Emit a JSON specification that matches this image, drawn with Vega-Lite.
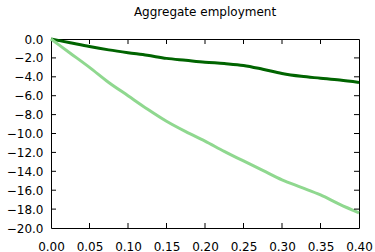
{
  "$schema": "https://vega.github.io/schema/vega-lite/v6.json",
  "autosize": "none",
  "width": 308,
  "height": 189,
  "padding": {"left": 51, "top": 39, "right": 16, "bottom": 24},
  "background": "white",
  "title": {"text": "Aggregate employment", "fontSize": 12, "font": "DejaVu Sans", "fontWeight": "normal", "color": "black", "offset": 14},
  "config": {
    "view": {"stroke": "black", "strokeWidth": 1},
    "axis": {"grid": false, "domain": false, "ticks": false, "tickSize": 0, "labelColor": "black", "labelFont": "DejaVu Sans", "labelFontSize": 12, "title": null, "labelOverlap": false, "labelFlush": false}
  },
  "datasets": {
    "d": [
      {"x": 0.0, "v": 0.0, "s": "a"},
      {"x": 0.025, "v": -0.4, "s": "a"},
      {"x": 0.05, "v": -0.8, "s": "a"},
      {"x": 0.075, "v": -1.15, "s": "a"},
      {"x": 0.1, "v": -1.45, "s": "a"},
      {"x": 0.125, "v": -1.72, "s": "a"},
      {"x": 0.15, "v": -2.05, "s": "a"},
      {"x": 0.175, "v": -2.25, "s": "a"},
      {"x": 0.2, "v": -2.45, "s": "a"},
      {"x": 0.225, "v": -2.6, "s": "a"},
      {"x": 0.25, "v": -2.8, "s": "a"},
      {"x": 0.275, "v": -3.2, "s": "a"},
      {"x": 0.3, "v": -3.65, "s": "a"},
      {"x": 0.325, "v": -3.95, "s": "a"},
      {"x": 0.35, "v": -4.15, "s": "a"},
      {"x": 0.375, "v": -4.35, "s": "a"},
      {"x": 0.4, "v": -4.6, "s": "a"},
      {"x": 0.0, "v": 0.0, "s": "b"},
      {"x": 0.025, "v": -1.5, "s": "b"},
      {"x": 0.05, "v": -3.0, "s": "b"},
      {"x": 0.075, "v": -4.6, "s": "b"},
      {"x": 0.1, "v": -6.0, "s": "b"},
      {"x": 0.125, "v": -7.4, "s": "b"},
      {"x": 0.15, "v": -8.7, "s": "b"},
      {"x": 0.175, "v": -9.8, "s": "b"},
      {"x": 0.2, "v": -10.8, "s": "b"},
      {"x": 0.225, "v": -11.9, "s": "b"},
      {"x": 0.25, "v": -12.9, "s": "b"},
      {"x": 0.275, "v": -13.9, "s": "b"},
      {"x": 0.3, "v": -14.9, "s": "b"},
      {"x": 0.325, "v": -15.7, "s": "b"},
      {"x": 0.35, "v": -16.5, "s": "b"},
      {"x": 0.375, "v": -17.5, "s": "b"},
      {"x": 0.4, "v": -18.4, "s": "b"}
    ],
    "xt": [{"t": 0.05}, {"t": 0.1}, {"t": 0.15}, {"t": 0.2}, {"t": 0.25}, {"t": 0.3}, {"t": 0.35}],
    "yt": [{"t": -2}, {"t": -4}, {"t": -6}, {"t": -8}, {"t": -10}, {"t": -12}, {"t": -14}, {"t": -16}, {"t": -18}]
  },
  "layer": [
    {
      "data": {"name": "d"},
      "mark": {"type": "line", "strokeWidth": 3, "interpolate": "monotone"},
      "encoding": {
        "x": {"field": "x", "type": "quantitative", "scale": {"domain": [0, 0.4], "nice": false}, "axis": {"orient": "bottom", "values": [0, 0.05, 0.1, 0.15, 0.2, 0.25, 0.3, 0.35, 0.4], "format": ".2f", "labelPadding": 13, "labelOverlap": false, "labelFlush": false}},
        "y": {"field": "v", "type": "quantitative", "scale": {"domain": [-20, 0], "nice": false}, "axis": {"orient": "left", "values": [0, -2, -4, -6, -8, -10, -12, -14, -16, -18, -20], "format": ".1f", "labelPadding": 8, "labelOverlap": false, "labelFlush": false}},
        "color": {"field": "s", "type": "nominal", "scale": {"domain": ["a", "b"], "range": ["#006400", "#8fd88f"]}, "legend": null}
      }
    },
    {
      "data": {"name": "xt"},
      "mark": {"type": "tick", "orient": "vertical", "size": 5, "thickness": 1, "color": "black", "opacity": 1, "yOffset": -2.5},
      "encoding": {"x": {"field": "t", "type": "quantitative", "axis": null}, "y": {"datum": -20, "type": "quantitative", "axis": null}}
    },
    {
      "data": {"name": "xt"},
      "mark": {"type": "tick", "orient": "vertical", "size": 5, "thickness": 1, "color": "black", "opacity": 1, "yOffset": 2.5},
      "encoding": {"x": {"field": "t", "type": "quantitative", "axis": null}, "y": {"datum": 0, "type": "quantitative", "axis": null}}
    },
    {
      "data": {"name": "yt"},
      "mark": {"type": "tick", "orient": "horizontal", "size": 5, "thickness": 1, "color": "black", "opacity": 1, "xOffset": 2.5},
      "encoding": {"y": {"field": "t", "type": "quantitative", "axis": null}, "x": {"datum": 0, "type": "quantitative", "axis": null}}
    },
    {
      "data": {"name": "yt"},
      "mark": {"type": "tick", "orient": "horizontal", "size": 5, "thickness": 1, "color": "black", "opacity": 1, "xOffset": -2.5},
      "encoding": {"y": {"field": "t", "type": "quantitative", "axis": null}, "x": {"datum": 0.4, "type": "quantitative", "axis": null}}
    }
  ],
  "resolve": {"axis": {"x": "independent", "y": "independent"}}
}
